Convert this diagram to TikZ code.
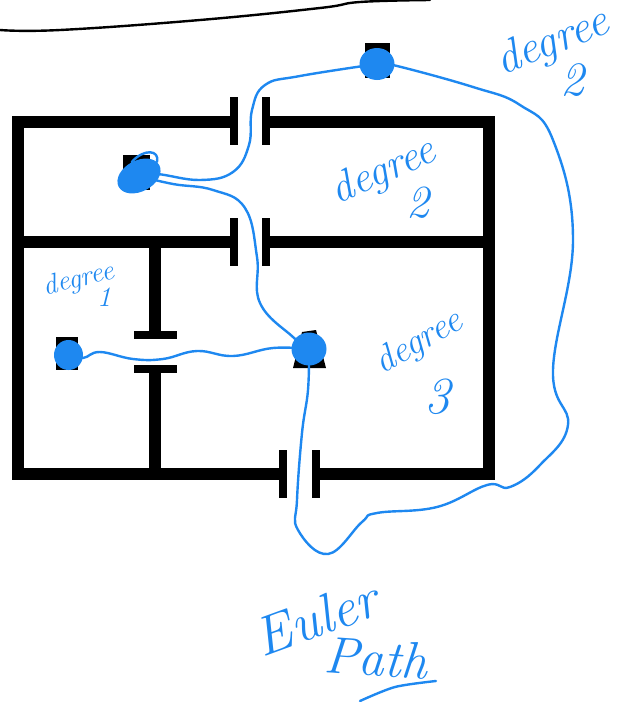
\documentclass[tikz,border=0pt]{standalone}
\usepackage{fontspec}
\usetikzlibrary{shapes.geometric}
\definecolor{inkblue}{HTML}{1E88F0}
\tikzset{
  wall/.style={line width=12pt, line cap=butt, black},
  jamb/.style={line width=7.5pt, black},
  pen/.style={line width=2.4pt, inkblue, line cap=round, line join=round},
  room/.style={ellipse, fill=inkblue, inner sep=0pt},
  hand/.style={inkblue, font=\itshape\fontsize{#1}{#1}\selectfont, inner sep=0pt},
}
\begin{document}
\begin{tikzpicture}[x=1pt,y=-1pt]
  \useasboundingbox (0,0) rectangle (633,702);
  % edge of the page above the plan
  \draw[line width=2.4pt, black, line cap=round] plot[smooth, tension=0.7] coordinates {(0,30) (60,30) (200,20) (320,8) (360,2) (430,0)};
  % walls
  \draw[wall] (234,122) -- (18,122) -- (18,474) -- (283,474);
  \draw[wall] (266,122) -- (489,122) -- (489,474) -- (316,474);
  \draw[wall] (18,242) -- (234,242);
  \draw[wall] (266,242) -- (489,242);
  \draw[wall] (155,242) -- (155,335);
  \draw[wall] (155,369) -- (155,474);
  % door posts
  \foreach \xpos/\ypos in {234/121, 266/121, 234/242, 266/242, 283/474, 316/474}
    \draw[jamb] (\xpos,\ypos-24) -- (\xpos,\ypos+24);
  \foreach \ypos in {335, 369}
    \draw[jamb] (134,\ypos) -- (177,\ypos);
  % letters under the ink
  \fill[black] (365,43) rectangle (390,78);
  \fill[black] (123,155) rectangle (150,190);
  \fill[black] (56,337) rectangle (78,370);
  \fill[black] (302,332) -- (316,330) -- (326,368) -- (293,368) -- cycle;
  % rooms
  \node[room, minimum width=35pt, minimum height=32pt] (roomB) at (377,64) {};
  \node[room, minimum width=46pt, minimum height=31pt, rotate=28] (roomC) at (139,176) {};
  \node[room, minimum width=29pt, minimum height=30pt] (roomD) at (68.5,355) {};
  \node[room, minimum width=35pt, minimum height=33pt] (roomA) at (309,349) {};
  \draw[pen] (roomC.north) .. controls (144,148) and (160,150) .. (157,162);
  % euler path
  \draw[pen] plot[smooth, tension=0.7] coordinates {(roomB) (300,76) (265,85) (252,110) (249,145) (233,172) (200,180) (157,174) (roomC)};
  \draw[pen] plot[smooth, tension=0.7] coordinates {(roomC) (173,184) (213,190) (245,208) (257,257) (260,303) (293,337) (roomA)};
  \draw[pen] plot[smooth, tension=0.7] coordinates {(roomD) (83,358) (100,352) (133,359) (163,359) (197,351) (233,356) (273,348) (roomA)};
  \draw[pen] plot[smooth, tension=0.7] coordinates {(roomA) (308,390) (302,433) (297,500) (298,530) (328,554) (362,522) (377,513) (437,507) (487,485) (510,487) (540,465) (568,425) (553,370) (573,240) (553,140) (520,105) (473,87) (393,65) (roomB)};
  % notes
  \node[hand=46, rotate=22] (noteTop) at (553,43) {degree};
  \node[hand=48] (noteTopNum) at (572,80) {2};
  \node[hand=43, rotate=24] (noteUpper) at (384,172) {degree};
  \node[hand=46] (noteUpperNum) at (418,203) {2};
  \node[hand=28, rotate=14] (noteLeft) at (79,280) {degree};
  \node[hand=28] (noteLeftNum) at (104,297) {1};
  \node[hand=37, rotate=30] (noteRight) at (419,343) {degree};
  \node[hand=52] (noteRightNum) at (437,397) {3};
  \node[hand=55, rotate=20] (noteEuler) at (316,618) {Euler};
  \node[hand=52, rotate=-4] (notePath) at (376,658) {Path};
  \draw[pen] plot[smooth] coordinates {(360,701) (395,687) (436,681)};
\end{tikzpicture}
\end{document}
